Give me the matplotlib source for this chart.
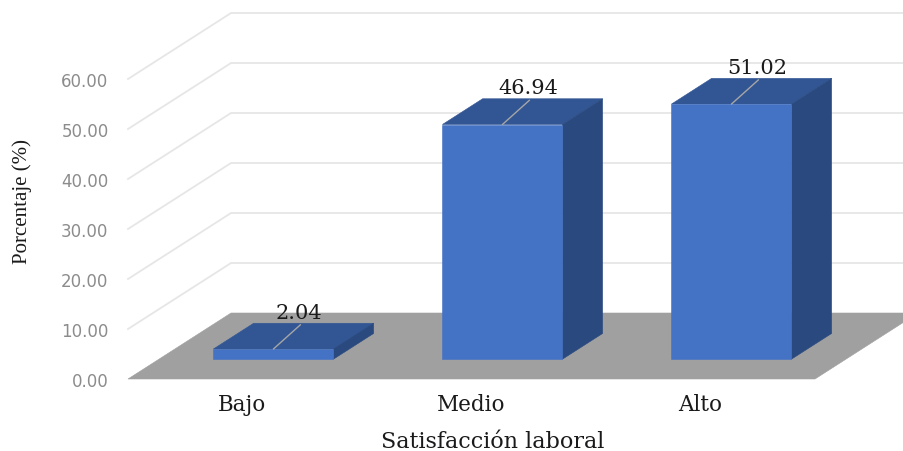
import matplotlib
matplotlib.use('Agg')
from matplotlib import pyplot as plt

categorias = ['Bajo', 'Medio', 'Alto']
porcentajes = [2.04, 46.94, 51.02]
ticks_y = [0, 10, 20, 30, 40, 50, 60]

# oblique projection of the depth axis, in data units
DX = 0.45
DY = 13.2
ANCHO = 0.524
Z_FRENTE = 0.30
Z_FONDO = 0.69


def proy(x, y, z):
    return x + DX * z, y + DY * z


def cara(ax, puntos, color, zorder):
    xs = [p[0] for p in puntos]
    ys = [p[1] for p in puntos]
    ax.fill(xs, ys, color=color, lw=0.4, clip_on=False, zorder=zorder)


fig = plt.figure(figsize=(9.04, 4.52), dpi=100)
ax = fig.add_axes([128 / 904, 72 / 452, 687 / 904, 300 / 452])
ax.set_xlim(0, 3)
ax.set_ylim(0, 60)
for s in ax.spines.values():
    s.set_visible(False)

# gridlines on the side and back walls
for t in ticks_y[1:]:
    xs = [0, proy(0, t, 1)[0], 3 + DX]
    ys = [t, proy(0, t, 1)[1], t + DY]
    ax.plot(xs, ys, color='#E6E6E6', lw=1.3, clip_on=False, zorder=1)

# floor
cara(ax, [proy(0, 0, 0), proy(3, 0, 0), proy(3, 0, 1), proy(0, 0, 1)], '#A0A0A0', 2)

for i, (cat, val) in enumerate(zip(categorias, porcentajes)):
    x0 = i + 0.5 - ANCHO / 2
    x1 = i + 0.5 + ANCHO / 2
    cara(ax, [proy(x0, 0, Z_FRENTE), proy(x1, 0, Z_FRENTE), proy(x1, val, Z_FRENTE), proy(x0, val, Z_FRENTE)],
         '#4472C4', 5)
    cara(ax, [proy(x0, val, Z_FRENTE), proy(x1, val, Z_FRENTE), proy(x1, val, Z_FONDO), proy(x0, val, Z_FONDO)],
         '#325694', 4)
    cara(ax, [proy(x1, 0, Z_FRENTE), proy(x1, 0, Z_FONDO), proy(x1, val, Z_FONDO), proy(x1, val, Z_FRENTE)],
         '#29497F', 4)
    # leader line and value label
    a = proy(i + 0.5, val, Z_FRENTE)
    ax.annotate('', xy=a, xytext=(19.5, 17.5), textcoords='offset points', annotation_clip=False, zorder=6,
                arrowprops=dict(arrowstyle='-', color='#A6A6A6', lw=1.0, shrinkA=0, shrinkB=0))
    ax.annotate('%.2f' % val, a, xytext=(18.5, 26.5), textcoords='offset points', ha='center', va='center',
                family='DejaVu Serif', fontsize=15, color='#1A1A1A', zorder=7, annotation_clip=False)

ax.set_xticks([i + 0.5 for i in range(len(categorias))])
ax.set_xticklabels(categorias, family='DejaVu Serif', fontsize=15.5, color='#1A1A1A')
ax.set_yticks(ticks_y)
ax.set_yticklabels(['%.2f' % t for t in ticks_y], family='DejaVu Sans', fontsize=12, color='#8C8C8C')
ax.tick_params(axis='x', length=0, pad=10)
ax.tick_params(axis='y', length=0, pad=14)

fig.text(493 / 904, 1 - 442 / 452, 'Satisfacción laboral', ha='center', va='center',
         family='DejaVu Serif', fontsize=16, color='#1A1A1A')
fig.text(22 / 904, 1 - 202 / 452, 'Porcentaje (%)', ha='center', va='center', rotation='vertical',
         family='Liberation Serif', fontsize=15, color='#1A1A1A')

fig.savefig('out.png', dpi=100)
